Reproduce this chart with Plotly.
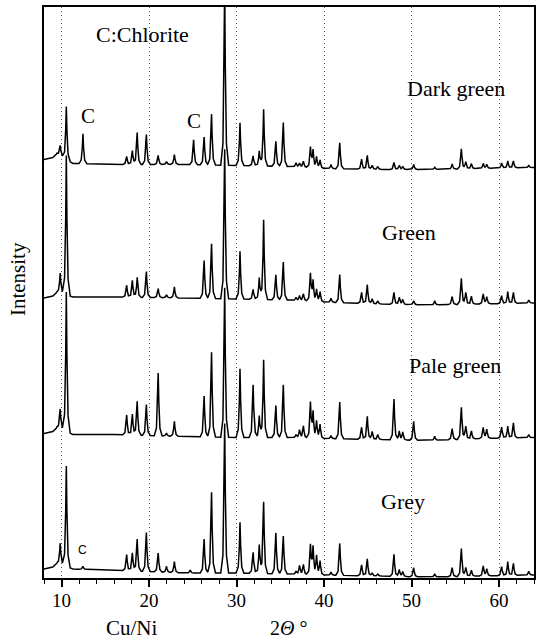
import numpy as np
import plotly.graph_objects as go

# Peak positions (2-theta, degrees) shared by the four patterns
peak_2theta = [9.85, 10.55, 12.45, 17.45, 18.1, 18.65, 19.7, 21.05, 22.0, 22.9,
               24.7, 25.1, 26.3, 27.15, 28.65, 30.4, 31.9, 32.6, 33.1, 34.5,
               35.35, 36.8, 37.2, 37.65, 38.45, 38.75, 39.15, 39.55, 40.8, 41.8,
               44.3, 44.95, 45.5, 46.15, 48.0, 48.6, 49.0, 50.25, 52.65, 54.65,
               55.7, 56.2, 56.85, 58.2, 58.6, 60.3, 61.0, 61.65, 63.4]

# Peak heights above each pattern's background (arbitrary intensity units)
h_dark = [10, 53, 30, 8, 14, 32, 30, 9, 3, 10,
          0, 25, 28, 51, 180, 43, 10, 15, 57, 25,
          44, 4, 4, 6, 20, 17, 11, 8, 4, 26,
          10, 14, 4, 3, 7, 4, 3, 5, 2, 5,
          20, 7, 5, 5, 4, 5, 7, 7, 2]
h_green = [20, 140, 0, 12, 17, 20, 26, 9, 3, 11,
           0, 0, 38, 55, 150, 48, 10, 22, 80, 25,
           38, 3, 5, 7, 27, 20, 12, 10, 4, 28,
           11, 19, 5, 3, 12, 7, 5, 4, 4, 8,
           26, 12, 8, 10, 7, 8, 12, 11, 3]
h_pale = [20, 140, 0, 20, 21, 34, 31, 63, 3, 15,
          0, 0, 41, 85, 150, 69, 53, 22, 78, 32,
          53, 3, 8, 12, 35, 25, 17, 14, 3, 37,
          12, 23, 8, 5, 41, 9, 8, 19, 4, 11,
          32, 13, 8, 11, 9, 11, 12, 15, 3]
h_grey = [21, 101, 3, 16, 18, 32, 39, 19, 6, 11,
          3, 0, 34, 81, 150, 51, 21, 29, 72, 41,
          38, 3, 9, 10, 29, 27, 19, 14, 3, 32,
          11, 17, 3, 2, 22, 7, 5, 9, 3, 9,
          28, 9, 6, 10, 7, 9, 14, 12, 4]

# Background (including stacking offset) of each pattern
base_2theta = [8, 9.0, 9.5, 11.3, 16, 24, 30, 36, 40, 46, 52, 58, 64]
base_dark = [420, 422, 426, 416, 415, 415, 414, 413, 411, 410, 410, 411, 412]
base_green = [281, 283, 287, 282, 282, 281, 280, 279, 277, 275, 274, 275, 276]
base_pale = [145, 147, 151, 144, 144, 142, 141, 141, 140, 139, 138, 140, 141]
base_grey = [9, 11, 15, 9, 8, 5, 5, 4, 3, 2, 1, 2, 3]

x_ticks = [10, 20, 30, 40, 50, 60]

# peak outline (style)
kernel_dx = [-0.45, -0.2, -0.07, 0.0, 0.07, 0.2, 0.45]
kernel_f = [0.0, 0.12, 0.55, 1.0, 0.55, 0.12, 0.0]


def pattern(base, heights):
    xs = set(base_2theta)
    for p, hh in zip(peak_2theta, heights):
        if hh > 0:
            for d in kernel_dx:
                xs.add(round(p + d, 4))
    xs = np.array(sorted(xs))
    ys = np.interp(xs, base_2theta, base)
    for p, hh in zip(peak_2theta, heights):
        if hh > 0:
            ys = ys + hh * np.interp(xs - p, kernel_dx, kernel_f, left=0, right=0)
    return xs, ys


fig = go.Figure()
for name, base, hts in [("Dark green", base_dark, h_dark),
                        ("Green", base_green, h_green),
                        ("Pale green", base_pale, h_pale),
                        ("Grey", base_grey, h_grey)]:
    xs, ys = pattern(base, hts)
    fig.add_trace(go.Scatter(x=xs, y=ys, mode="lines", name=name,
                             line=dict(color="black", width=1.5)))

serif = "Liberation Serif"
ann = []
def txt(t, x, y, size=22, xref="x", yref="y", font=serif, angle=0):
    ann.append(dict(text=t, x=x, y=y, xref=xref, yref=yref, showarrow=False,
                    font=dict(family=font, size=size, color="black"),
                    xanchor="center", yanchor="middle", textangle=angle))

txt("C:Chlorite", 19.3, 545, 22)
txt("Dark green", 55.1, 491, 22)
txt("Green", 49.7, 347, 22)
txt("Pale green", 55.0, 213, 22)
txt("Grey", 49.0, 77, 22)
txt("C", 13.0, 464, 21)
txt("C", 25.15, 459, 21)
txt("C", 12.45, 28, 12, font="Liberation Sans")
txt("Cu/Ni", 18.1, -0.087, 21, yref="paper")
txt("2<i>Θ</i> °", 35.9, -0.087, 20, yref="paper")
txt("Intensity", -0.053, 300, 21, xref="paper", angle=-90)

fig.update_layout(
    width=542, height=642,
    margin=dict(l=44, r=8, t=5, b=64),
    plot_bgcolor="white", paper_bgcolor="white",
    showlegend=False,
    annotations=ann,
    xaxis=dict(range=[8, 64], tickmode="array", tickvals=x_ticks,
               ticktext=[str(v) for v in x_ticks],
               ticks="outside", ticklen=7, tickwidth=1.5, tickcolor="black",
               ticklabelstandoff=-3,
               showline=True, linecolor="black", linewidth=2, mirror=True,
               showgrid=True, gridcolor="#555", gridwidth=1, griddash="1px,3px",
               zeroline=False,
               tickfont=dict(family="Liberation Serif", size=19, color="black"),
               minor=dict(tick0=0, dtick=2, ticks="outside", ticklen=4,
                          tickwidth=1, tickcolor="black", showgrid=False)),
    yaxis=dict(range=[0, 573], showticklabels=False, ticks="",
               showline=True, linecolor="black", linewidth=2, mirror=True,
               showgrid=False, zeroline=False),
)

fig.write_html("out.html")
